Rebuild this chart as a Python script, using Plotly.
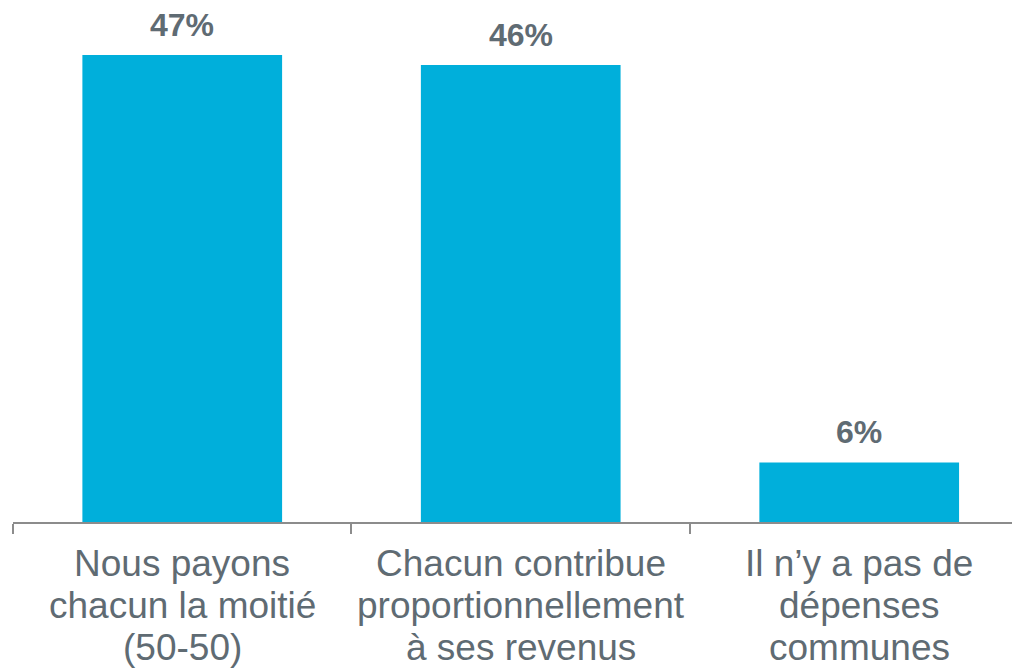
import plotly.graph_objects as go

categories = [
    "Nous payons<br>chacun la moitié<br>(50-50)",
    "Chacun contribue<br>proportionnellement<br>à ses revenus",
    "Il n’y a pas de<br>dépenses<br>communes",
]
values = [47, 46, 6]
value_labels = ["47%", "46%", "6%"]

BAR_COLOR = "#00AFDB"
TEXT_COLOR = "#5F6B73"
AXIS_COLOR = "#8C8C8C"
FONT = "Liberation Sans, Arial, sans-serif"

fig = go.Figure()
fig.add_trace(go.Bar(
    x=categories,
    y=values,
    width=0.59,
    marker=dict(color=BAR_COLOR, line=dict(width=0)),
    hoverinfo="skip",
))

annotations = []
# value labels above bars
for c, v, t in zip(categories, values, value_labels):
    annotations.append(dict(
        x=c, y=v, xref="x", yref="y", text=f"<b>{t}</b>",
        showarrow=False, yanchor="bottom", xanchor="center", yshift=10,
        font=dict(family=FONT, size=32, color=TEXT_COLOR),
    ))
# category labels, one annotation per line for tighter line spacing
LINE_GAP = 42
for c in categories:
    for i, line in enumerate(c.split("<br>")):
        annotations.append(dict(
            x=c, y=0, xref="x", yref="paper", text=line,
            showarrow=False, yanchor="top", xanchor="center",
            yshift=-19 - i * LINE_GAP,
            font=dict(family=FONT, size=37, color=TEXT_COLOR),
        ))

fig.update_layout(
    width=1012, height=662,
    margin=dict(l=5, r=0, t=0, b=148),
    paper_bgcolor="white", plot_bgcolor="white",
    showlegend=False,
    annotations=annotations,
    xaxis=dict(
        type="category",
        range=[-0.5, 2.475],
        showticklabels=False,
        showline=True, linecolor=AXIS_COLOR, linewidth=1.5,
        ticks="outside", tickson="boundaries", ticklen=10,
        tickcolor=AXIS_COLOR, tickwidth=1.5,
        showgrid=False, zeroline=False,
    ),
    yaxis=dict(
        range=[0, 51.73], visible=False,
        showgrid=False, zeroline=False,
    ),
    font=dict(family=FONT),
)

fig.write_html("out.html")
